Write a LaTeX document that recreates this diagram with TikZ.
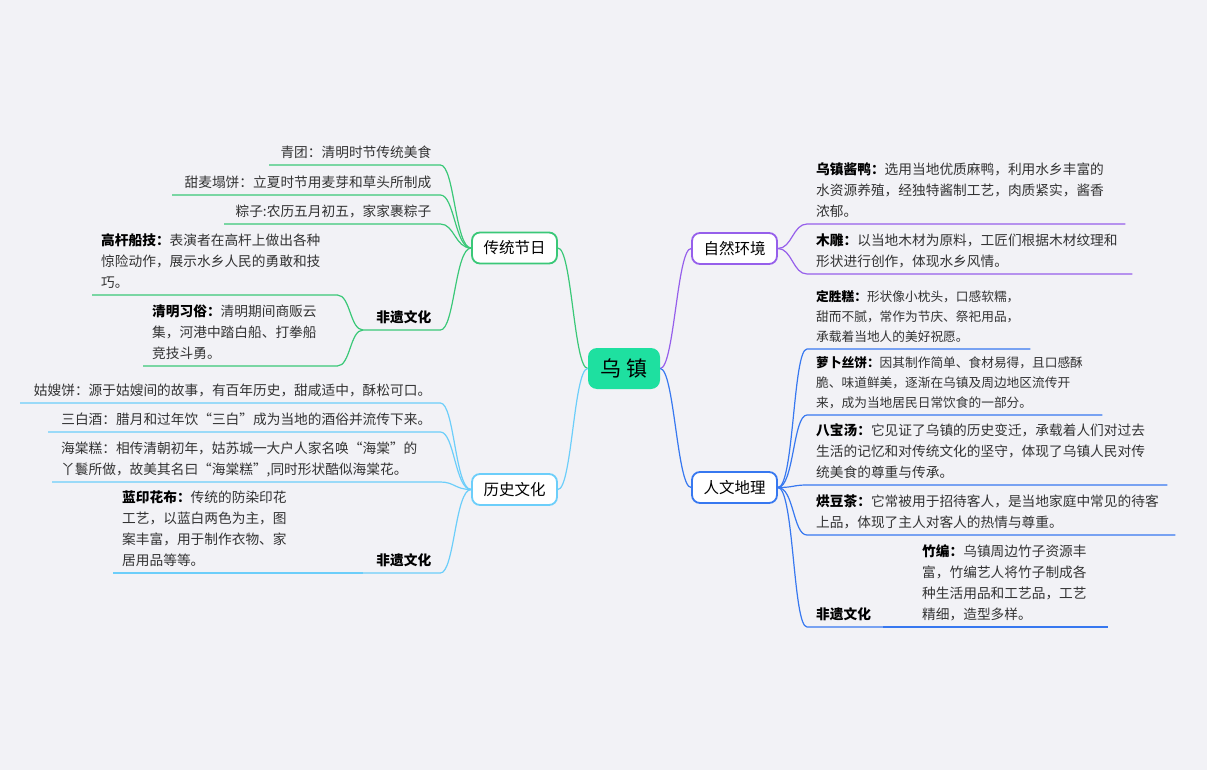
\documentclass[tikz,border=0pt]{standalone}
\usepackage{fontspec}
\setmainfont{Noto Sans CJK SC}
\usepackage{tikz}
\definecolor{festival}{RGB}{58,200,120}
\definecolor{history}{RGB}{108,206,250}
\definecolor{nature}{RGB}{150,95,235}
\definecolor{human}{RGB}{55,120,240}
\definecolor{rootfill}{RGB}{30,224,160}
\definecolor{paper}{RGB}{242,242,246}
\definecolor{body}{RGB}{51,51,51}

\begin{document}
\begin{tikzpicture}[x=1pt,y=-1pt]
    \tikzstyle{root}=[fill=rootfill, rounded corners=9pt, minimum width=72pt, minimum height=41pt, font=\fontsize{21}{25}\selectfont]
    \tikzstyle{topic}=[draw, line width=1.8pt, fill=white, rounded corners=8pt, minimum width=85pt, minimum height=31pt, font=\fontsize{15.5}{18}\selectfont]
    \tikzstyle{leaf}=[anchor=south west, align=left, inner xsep=9pt, inner ysep=1pt, execute at end node=\strut, text=body, font=\fontsize{13.7}{21}\selectfont]
    \tikzstyle{small}=[font=\fontsize{12.7}{20}\selectfont]
    \tikzstyle{sub}=[text=black, font=\fontsize{13.7}{21}\selectfont\bfseries]
    \tikzstyle{link}=[line width=1.2pt]

    \fill[paper] (0,0) rectangle (1207,770);
    \useasboundingbox (0,0) rectangle (1207,770);

    % centre and main topics
    \node[root] (wuzhen) at (624,368.5) {乌 镇};
    \node[topic,draw=festival] (chuantong) at (514.5,248) {传统节日};
    \node[topic,draw=history] (lishi) at (514.5,489.5) {历史文化};
    \node[topic,draw=nature] (ziran) at (734.5,248.5) {自然环境};
    \node[topic,draw=human] (renwen) at (734.5,487.5) {人文地理};

    % 传统节日
    \node[leaf,align=right,text width=153pt] (qingtuan) at (269,165) {青团：清明时节传统美食};
    \node[leaf,align=right,text width=250pt] (tianmai) at (172,195) {甜麦塌饼：立夏时节用麦芽和草头所制成};
    \node[leaf,align=right,text width=198pt] (zongzi) at (224,224) {粽子:农历五月初五，家家裹粽子};
    \node[leaf,sub,align=right,text width=59pt] (feiyi1) at (363,330) {非遗文化};
    \node[leaf,text width=227pt] (gaogan) at (92,295) {{\bfseries\color{black}高杆船技：}表演者在高杆上做出各种\\惊险动作，展示水乡人民的勇敢和技\\巧。};
    \node[leaf,text width=176pt] (qingming) at (143,366) {{\bfseries\color{black}清明习俗：}清明期间商贩云\\集，河港中踏白船、打拳船\\竞技斗勇。};

    % 历史文化
    \node[leaf,align=right,text width=402pt] (gusao) at (20,403) {姑嫂饼：源于姑嫂间的故事，有百年历史，甜咸适中，酥松可口。};
    \node[leaf,align=right,text width=374pt] (sanbai) at (48,432) {三白酒：腊月和过年饮“三白”成为当地的酒俗并流传下来。};
    \node[leaf,text width=370pt] (haitang) at (52,482) {海棠糕：相传清朝初年，姑苏城一大户人家名唤“海棠”的\\丫鬟所做，故美其名曰“海棠糕”,同时形状酷似海棠花。};
    \node[leaf,sub,align=right,text width=59pt] (feiyi2) at (363,573) {非遗文化};
    \node[leaf,text width=206pt] (lanyin) at (113,573) {{\bfseries\color{black}蓝印花布：}传统的防染印花\\工艺，以蓝白两色为主，图\\案丰富，用于制作衣物、家\\居用品等等。};

    % 自然环境
    \node[leaf,text width=300pt] (jiangya) at (807,224) {{\bfseries\color{black}乌镇酱鸭：}选用当地优质麻鸭，利用水乡丰富的\\水资源养殖，经独特酱制工艺，肉质紧实，酱香\\浓郁。};
    \node[leaf,text width=307pt] (mudiao) at (807,274) {{\bfseries\color{black}木雕：}以当地木材为原料，工匠们根据木材纹理和\\形状进行创作，体现水乡风情。};

    % 人文地理
    \node[leaf,small,text width=205pt] (dingsheng) at (807,349) {{\bfseries\color{black}定胜糕：}形状像小枕头，口感软糯，\\甜而不腻，常作为节庆、祭祀用品，\\承载着当地人的美好祝愿。};
    \node[leaf,small,text width=277pt] (luobo) at (807,415) {{\bfseries\color{black}萝卜丝饼：}因其制作简单、食材易得，且口感酥\\脆、味道鲜美，逐渐在乌镇及周边地区流传开\\来，成为当地居民日常饮食的一部分。};
    \node[leaf,text width=342pt] (babao) at (807,485) {{\bfseries\color{black}八宝汤：}它见证了乌镇的历史变迁，承载着人们对过去\\生活的记忆和对传统文化的坚守，体现了乌镇人民对传\\统美食的尊重与传承。};
    \node[leaf,text width=350pt] (hongdou) at (807,535) {{\bfseries\color{black}烘豆茶：}它常被用于招待客人，是当地家庭中常见的待客\\上品，体现了主人对客人的热情与尊重。};
    \node[leaf,sub,text width=58pt] (feiyi3) at (807,627) {非遗文化};
    \node[leaf,text width=177pt] (zhubian) at (913,627) {{\bfseries\color{black}竹编：}乌镇周边竹子资源丰\\富，竹编艺人将竹子制成各\\种生活用品和工艺品，工艺\\精细，造型多样。};

    % connectors
    \draw[link,festival] (wuzhen.west) .. controls +(-14,0) and +(14,0) .. (chuantong.east);
    \draw[link,history] (wuzhen.west) .. controls +(-14,0) and +(14,0) .. (lishi.east);
    \draw[link,nature] (wuzhen.east) .. controls +(14,0) and +(-14,0) .. (ziran.west);
    \draw[link,human] (wuzhen.east) .. controls +(14,0) and +(-14,0) .. (renwen.west);

    \foreach \n in {qingtuan,tianmai,zongzi,feiyi1}
        \draw[link,festival] (chuantong.west) .. controls +(-16,0) and +(14,0) .. (\n.south east) -- (\n.south west);
    \foreach \n in {gaogan,qingming}
        \draw[link,festival] (feiyi1.south west) .. controls +(-13,0) and +(13,0) .. (\n.south east) -- (\n.south west);

    \foreach \n in {gusao,sanbai,haitang,feiyi2}
        \draw[link,history] (lishi.west) .. controls +(-16,0) and +(14,0) .. (\n.south east) -- (\n.south west);
    \draw[link,history] (feiyi2.south west) -- (lanyin.south east) -- (lanyin.south west);

    \foreach \n in {jiangya,mudiao}
        \draw[link,nature] (ziran.east) .. controls +(14,0) and +(-14,0) .. (\n.south west) -- (\n.south east);

    \foreach \n in {dingsheng,luobo,babao,hongdou,feiyi3}
        \draw[link,human] (renwen.east) .. controls +(16,0) and +(-14,0) .. (\n.south west) -- (\n.south east);
    \draw[link,human] (feiyi3.south east) -- (zhubian.south west) -- (zhubian.south east);
\end{tikzpicture}
\end{document}
